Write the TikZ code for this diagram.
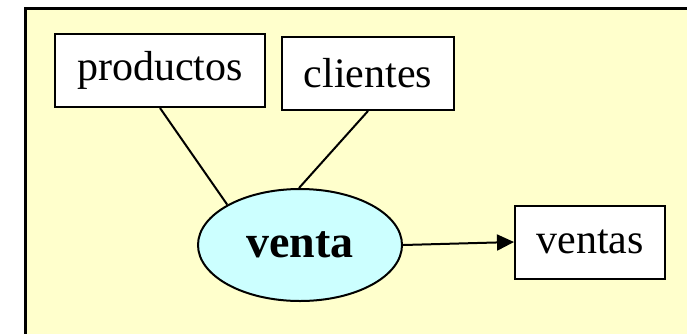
\documentclass[tikz,border=0pt]{standalone}
\usepackage{fontspec}
\setmainfont{Liberation Serif}
\usetikzlibrary{arrows.meta,shapes.geometric}
\definecolor{bgyellow}{HTML}{FFFFCC}
\definecolor{ellcyan}{HTML}{CCFFFF}
\begin{document}
\begin{tikzpicture}[x=1pt,y=-1pt,
  tbox/.style={draw=black,line width=2pt,fill=white,minimum height=73pt,inner sep=0pt,font=\fontsize{42}{48}\selectfont},
  link/.style={draw=black,line width=2pt}]
\useasboundingbox (0,0) rectangle (687,333);
\fill[white] (0,0) rectangle (687,333);
\fill[bgyellow] (25,8) rectangle (690,340);
\draw[line width=3pt] (25,345) -- (25,8) -- (690,8);
\node[tbox,minimum width=210pt] (prod) at (160,70.5) {productos};
\node[tbox,minimum width=172pt] (cli) at (368,73.5) {clientes};
\node[draw=black,line width=2pt,fill=ellcyan,ellipse,minimum width=204pt,minimum height=112pt,inner sep=0pt,font=\fontsize{46}{52}\selectfont\bfseries] (venta) at (300,245) {venta};
\node[tbox,minimum width=150pt] (ventas) at (590,242) {ventas};
\draw[link] (prod.south) -- (venta.151);
\draw[link] (cli.south) -- (venta.91);
\draw[link,-{Triangle[length=17pt,width=16pt]}] (venta.east) -- (ventas.west);
\end{tikzpicture}
\end{document}
